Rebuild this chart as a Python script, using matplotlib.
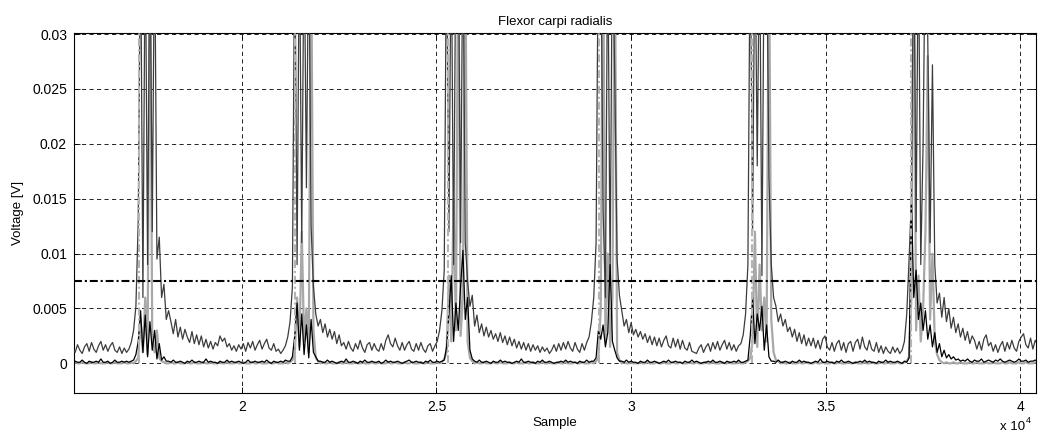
import numpy as np
import matplotlib
matplotlib.use('Agg')
import matplotlib.pyplot as plt
from matplotlib.ticker import FuncFormatter

plt.rcParams['font.family'] = ['Liberation Sans', 'DejaVu Sans']

# sample axis of the traces
first_sample = 15660
sample_step = 60

# dark grey trace, units of 1e-4 V (values above 300 run off the top)
envelope = [
    14, 10, 17, 12, 9, 15, 18, 11, 19, 13, 10, 16, 20, 12, 17, 11, 16, 19, 12, 10, 15, 9, 14, 10, 13,
    19, 30, 52,
    130, 400, 60, 400, 90, 400, 120, 400, 95, 115,
    60, 72, 40, 48,
    38, 27, 40, 24, 33, 22, 31, 24, 19, 29, 18, 26, 17, 25, 15, 22, 14, 20, 13,
    19, 16, 25, 20, 23, 15, 18, 12, 16, 11, 17, 13, 18, 11, 19, 14, 20, 12, 17, 21,
    13, 18, 22, 14, 12, 18, 11, 13, 9, 12,
    16, 24, 38, 70,
    400, 90, 400, 110, 400, 160, 400, 125, 70,
    45, 34, 40, 28, 36, 24, 31, 22, 29, 18, 26, 16,
    19, 13, 20, 14, 11, 18, 13, 21, 14, 10, 17, 19, 12, 18, 13, 11, 18, 12, 21, 26,
    18, 15, 23, 16, 12, 19, 12, 17, 20, 13, 11, 18, 12, 19, 13, 10, 16, 18, 11, 16,
    20, 30, 48, 85,
    400, 120, 400, 90, 400, 400, 110, 400, 110,
    75, 52, 62, 34, 44, 28, 36, 25, 33, 24, 30, 22,
    27, 20, 28, 19, 25, 17, 24, 16, 22, 14, 20, 13, 19, 12, 18, 11, 17, 12, 16, 10,
    15, 11, 14, 9, 12, 17, 11, 18, 12, 19, 13, 20, 14, 11, 19, 13, 10, 18, 12, 19,
    24, 38, 60, 110,
    400, 400, 140, 60, 400, 80, 400, 260,
    95, 62, 48, 34, 40, 28, 37, 26, 31, 24, 29, 22,
    27, 19, 25, 17, 24, 16, 23, 15, 21, 25, 16, 14, 23, 15, 22, 13, 21, 14, 12, 19,
    11, 10, 9, 14, 17, 10, 15, 18, 11, 19, 13, 20, 12, 17, 21, 13, 19, 12, 17, 11, 16,
    18, 26, 45, 90,
    400, 120, 400, 180, 400, 80, 400, 400, 170, 90, 60,
    52, 38, 45, 34, 40, 29, 33, 24, 31, 20, 28, 18, 26, 16, 23,
    16, 23, 14, 21, 13, 22, 25, 15, 12, 19, 11, 18, 21, 12, 19, 10, 18, 20, 11, 19,
    22, 13, 24, 15, 12, 21, 13, 11, 19, 10, 16, 9, 15, 11, 9, 15, 10, 14, 9, 12,
    20, 45, 95,
    150, 400, 120, 400, 90, 200, 400, 296, 110, 272, 90,
    55, 64, 42, 60, 38, 50, 32, 42, 28, 36, 24, 32, 21, 29, 18, 25,
    21, 13, 20, 12, 22, 26, 16, 19, 11, 17, 10, 16, 20, 11, 19, 13, 21, 14, 11, 20,
    24, 27, 17, 14, 23, 13, 21, 17,
]

# black trace, units of 1e-4 V
rectified = [
    1, 2, 1, 1, 3, 1, 0, 2, 1, 1, 2, 1, 4, 1, 1, 2, 0, 1, 3, 1, 1, 2, 1, 2, 1, 2,
    3, 8, 20, 48, 10, 44, 6, 38, 12, 30, 4, 18, 3, 6, 2,
    2, 1, 3, 1, 1, 2, 1, 0, 2, 1, 3, 1, 1, 2, 1, 1, 4, 1, 2, 1, 1, 0, 2, 1, 1, 3,
    1, 2, 1, 1, 2, 1, 0, 1, 3, 1, 1, 2, 1, 1, 2, 1, 3, 1, 0, 2, 1, 1, 2, 1, 3, 2,
    2, 6, 25, 55, 12, 45, 8, 35, 5, 40, 10, 6, 2,
    2, 1, 1, 3, 1, 2, 1, 0, 1, 2, 1, 4, 1, 1, 2, 1, 0, 2, 1, 3, 1, 1, 2, 1, 1, 2,
    0, 1, 3, 1, 2, 1, 1, 2, 1, 0, 1, 2, 3, 1, 1, 2, 1, 1, 0, 2, 1, 3, 1, 1, 2, 1, 2,
    3, 15, 45, 80, 20, 55, 30, 70, 103, 40, 60, 12, 4,
    2, 1, 3, 1, 1, 2, 1, 0, 2, 1, 1, 3, 1, 2, 1, 1, 0, 1, 2, 1, 4, 1, 1, 2, 1,
    1, 0, 2, 1, 3, 1, 1, 2, 1, 0, 1, 1, 2, 1, 3, 1, 2, 1, 1, 0, 2, 1, 1, 3, 1, 2,
    2, 5, 30, 22, 35, 15, 28, 90, 20, 12, 5, 2,
    2, 1, 3, 1, 2, 1, 1, 0, 2, 1, 1, 3, 1, 1, 2, 1, 0, 1, 2, 1, 3, 1, 1, 2, 1, 1, 0,
    2, 1, 1, 3, 1, 2, 1, 0, 1, 1, 2, 1, 3, 1, 1, 2, 1, 0, 2, 1, 1, 2, 1, 3, 1, 1, 2,
    3, 25, 60, 18, 45, 30, 52, 12, 35, 6, 2,
    2, 1, 3, 1, 1, 2, 1, 0, 2, 1, 1, 3, 1, 2, 1, 1, 0, 1, 2, 1, 4, 1, 1, 2, 1, 1, 0, 2, 1,
    3, 1, 1, 2, 1, 0, 1, 1, 2, 1, 3, 1, 2, 1, 1, 0, 2, 1, 1, 3, 1, 2, 1, 1, 2, 1, 0, 2, 1,
    5, 148, 60, 85, 40, 55, 30, 48, 22, 35, 15, 28, 10, 18, 6, 12, 5, 8, 4, 6, 3, 4, 2,
    3, 2, 4, 2, 1, 3, 2, 2, 4, 1, 2, 3, 2, 1, 3, 2, 4, 2, 1, 2, 3, 2, 1, 2, 4, 2, 2, 3, 1, 2, 2, 3, 2,
]

# light grey trace, units of 1e-4 V
raw = [
    0, 1, 0, 0, 1, 0, 0, 0, 1, 0, 0, 1, 0, 0, 0, 1, 0, 0, 1, 0, 0, 0, 1, 0, 0, 1, 0, 2,
    5, 40, 10, 60, 8, 400, 20, 10, 30, 5,
    2, 1, 0, 0, 1, 0, 0, 1, 0, 0, 0, 1, 0, 0, 1, 0, 0, 0, 1, 0, 0, 1, 0, 0, 0, 1, 0, 0, 1,
    0, 0, 0, 1, 0, 0, 1, 0, 0, 0, 1, 0, 0, 1, 0, 0, 0, 1, 0, 0, 1, 0, 0, 0, 1, 0, 1, 3,
    8, 60, 15, 120, 20, 50, 10, 400, 30, 5,
    2, 0, 1, 0, 0, 1, 0, 0, 0, 1, 0, 0, 1, 0, 0, 0, 1, 0, 0, 1, 0, 0, 0, 1, 0, 0, 1,
    0, 0, 0, 1, 0, 0, 1, 0, 0, 0, 1, 0, 0, 1, 0, 0, 0, 1, 0, 0, 1, 0, 0, 0, 1, 0, 1, 4,
    10, 80, 20, 150, 30, 400, 25, 60, 400, 20, 5,
    2, 0, 1, 0, 0, 1, 0, 0, 0, 1, 0, 0, 1, 0, 0, 0, 1, 0, 0, 1, 0, 0, 0, 1, 0, 0, 1,
    0, 0, 0, 1, 0, 0, 1, 0, 0, 0, 1, 0, 0, 1, 0, 0, 0, 1, 0, 0, 1, 0, 0, 0, 1, 0, 2, 5,
    50, 400, 20, 100, 15, 60, 400, 10,
    3, 0, 1, 0, 0, 1, 0, 0, 0, 1, 0, 0, 1, 0, 0, 0, 1, 0, 0, 1, 0, 0, 0, 1, 0, 0, 1, 0,
    0, 0, 1, 0, 0, 1, 0, 0, 0, 1, 0, 0, 1, 0, 0, 0, 1, 0, 0, 1, 0, 0, 0, 1, 0, 0, 1, 2, 5,
    20, 120, 15, 90, 30, 60, 20, 400, 40, 10, 3,
    2, 0, 1, 0, 0, 1, 0, 0, 0, 1, 0, 0, 1, 0, 0, 0, 1, 0, 0, 1, 0, 0, 0, 1, 0, 0, 1, 0,
    0, 0, 1, 0, 0, 1, 0, 0, 0, 1, 0, 0, 1, 0, 0, 0, 1, 0, 0, 1, 0, 0, 0, 1, 0, 0, 1, 2, 6,
    60, 400, 30, 80, 20, 50, 120, 280, 40, 100, 20, 8,
    3, 1, 0, 1, 0, 0, 1, 0, 0, 1, 0, 0, 0, 1, 0, 0, 1, 0, 0, 0, 1, 0, 0, 1, 0, 0, 0,
    1, 0, 0, 1, 0, 0, 0, 1, 0, 0, 1, 0, 0, 0, 1, 0,
]

onsets = [17360, 21360, 25290, 29170, 33100, 37200]
threshold = 0.0075

x_ticks = [20000, 25000, 30000, 35000, 40000]
x_tick_labels = ['2', '2.5', '3', '3.5', '4']
y_ticks = [0, 0.005, 0.01, 0.015, 0.02, 0.025, 0.03]


def samples(values):
    return first_sample + sample_step * np.arange(len(values))


def volts(values):
    return np.array(values) * 1e-4


fig = plt.figure(figsize=(10.4, 4.43), dpi=100)
ax = fig.add_axes([74 / 1040, 1 - 393 / 443, (1036 - 74) / 1040, (393 - 33) / 443])

ax.plot(samples(raw), volts(raw), color='#a8a8a8', lw=1.6, zorder=2)
ax.plot(samples(envelope), volts(envelope), color='#3c3c3c', lw=0.9, zorder=3)
ax.plot(samples(rectified), volts(rectified), color='black', lw=0.9, zorder=4)
ax.vlines(onsets, 0, 0.0302, colors='#b4b4b4', linestyles=(0, (3.8, 1.4, 1, 1.4)),
          lw=1.5, zorder=5)
ax.axhline(threshold, color='black', ls=(0, (3.8, 1.4, 1, 1.4)), lw=1.5, zorder=6)

ax.set_xlim(15690, 40400)
ax.set_ylim(-0.0027, 0.0301)
ax.set_xticks(x_ticks)
ax.set_xticklabels(x_tick_labels)
ax.set_yticks(y_ticks)
ax.yaxis.set_major_formatter(FuncFormatter(lambda v, p: '%g' % v))
ax.grid(True, color='black', ls=(0, (5, 4)), lw=0.6)
ax.set_axisbelow(True)
ax.tick_params(direction='in', top=True, right=True, length=4, width=0.6,
               labelsize=10, pad=5)
for s in ax.spines.values():
    s.set_linewidth(0.8)

ax.set_title('Flexor carpi radialis', fontsize=9.5, pad=6)
ax.set_xlabel('Sample', fontsize=9.5, labelpad=2)
ax.set_ylabel('Voltage [V]', fontsize=9.5, labelpad=6)
fig.text(1025 / 1040, 1 - 430 / 443, 'x 10', ha='right', va='baseline', fontsize=9.5)
fig.text(1026 / 1040, 1 - 423 / 443, '4', ha='left', va='baseline', fontsize=6.5)

fig.savefig('out.png', dpi=100)
